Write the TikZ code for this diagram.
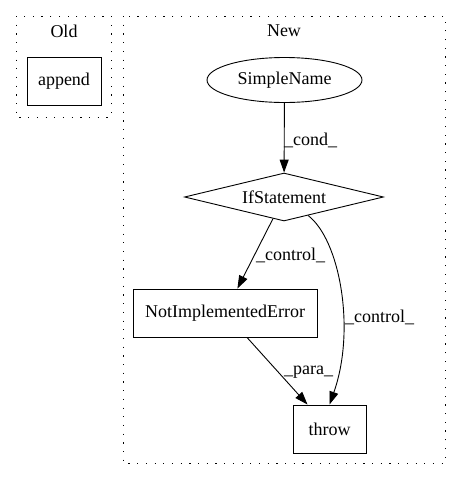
\documentclass[tikz,border=0pt]{standalone}
\usepackage{fontspec}
\setmainfont{Liberation Serif}
\usetikzlibrary{shapes.geometric,arrows.meta}
\begin{document}
\begin{tikzpicture}[x=1pt,y=-1pt,
  every node/.style={font=\fontsize{18pt}{20pt}\selectfont, inner sep=0pt},
  box/.style={draw, line width=0.9pt, rectangle, minimum height=48pt},
  cluster/.style={draw, line width=1pt, dash pattern=on 1.2pt off 7.5pt},
  edgelbl/.style={anchor=west},
  arr/.style={draw, line width=0.9pt, -{Triangle[length=13pt,width=9pt]}}]
\useasboundingbox (0,0) rectangle (461,480);
% clusters
\draw[cluster] (16,16) rectangle (111,117);
\node (oldlbl) at (64,31) {Old};
\draw[cluster] (123,16) rectangle (445,463);
\node (newlbl) at (284,31) {New};
% nodes
\node[box, minimum width=74pt] (append) at (64,81) {append};
\node[draw, line width=0.9pt, ellipse, minimum width=155pt, minimum height=45pt] (sn) at (284.5,80) {SimpleName};
\node[draw, line width=0.9pt, diamond, aspect=4.1, minimum width=199pt, minimum height=48pt] (if) at (284,197) {IfStatement};
\node[box, minimum width=184pt] (nie) at (225,313) {NotImplementedError};
\node[box, minimum width=73pt] (throw) at (329.5,429) {throw};
% edges
\draw[arr] (sn) -- (if);
\node[edgelbl] (l1) at (284,140) {\_cond\_};
\draw[arr] (if) -- (nie);
\node[edgelbl] (l2) at (256,255) {\_control\_};
\draw[arr] (if) .. controls (340,240) and (356,330) .. (throw.north);
\node[edgelbl] (l3) at (345,317) {\_control\_};
\draw[arr] (nie) -- (throw);
\node[edgelbl] (l4) at (284,372) {\_para\_};
\end{tikzpicture}
\end{document}
